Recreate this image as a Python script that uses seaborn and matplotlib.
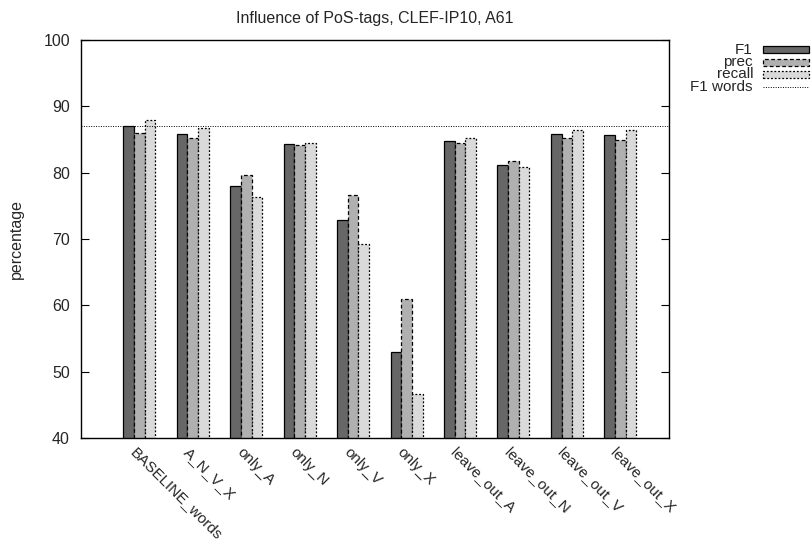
import matplotlib
matplotlib.use("Agg")
import matplotlib.pyplot as plt
import matplotlib.transforms as mtransforms
from matplotlib.patches import Rectangle
from matplotlib.lines import Line2D
import pandas as pd
import seaborn as sns

# ── Data ─────────────────────────────────────────────────────────────────────
configs = ["BASELINE_words", "A_N_V_X", "only_A", "only_N", "only_V", "only_X",
           "leave_out_A", "leave_out_N", "leave_out_V", "leave_out_X"]
f1     = [87.0, 85.9, 78.0, 84.3, 72.9, 52.9, 84.8, 81.2, 85.8, 85.7]
prec   = [86.0, 85.2, 79.7, 84.1, 76.7, 60.9, 84.4, 81.7, 85.3, 85.0]
recall = [88.0, 86.7, 76.4, 84.5, 69.2, 46.7, 85.2, 80.8, 86.4, 86.5]
f1_words = 87.0

metrics = ["F1", "prec", "recall"]
colors = {"F1": "#676767", "prec": "#b0b0b0", "recall": "#dadada"}
styles = {"F1": "-", "prec": (0, (3, 2)), "recall": (0, (1.5, 1.5))}

df = pd.DataFrame({
    "config": configs * 3,
    "metric": ["F1"] * len(configs) + ["prec"] * len(configs) + ["recall"] * len(configs),
    "value": f1 + prec + recall,
})

# ── Plot ─────────────────────────────────────────────────────────────────────
FS = 11.5
sns.set_style("white")
plt.rcParams["font.family"] = ["Liberation Sans", "DejaVu Sans"]
plt.rcParams["font.size"] = FS

fig = plt.figure(figsize=(8.11, 5.43), dpi=100)
ax = fig.add_axes([0.0999, 0.1934, 0.725, 0.7329])

sns.barplot(data=df, x="config", y="value", hue="metric", hue_order=metrics,
            palette=colors, width=0.6, edgecolor="black", linewidth=0.9,
            saturation=1, legend=False, ax=ax)
for cont, m in zip(ax.containers, metrics):
    for bar in cont:
        bar.set_linestyle(styles[m])

ax.axhline(f1_words, color="black", linestyle=(0, (1, 1.5)), linewidth=0.7)

ax.set_xlim(-1.09, 9.91)
ax.set_ylim(40, 100)
ax.set_yticks(range(40, 101, 10))
ax.set_xlabel("")
ax.set_ylabel("percentage", fontsize=FS, labelpad=14)
ax.set_title("Influence of PoS-tags, CLEF-IP10, A61", fontsize=FS, pad=12.5)

for sp in ax.spines.values():
    sp.set_visible(True)
    sp.set_color("black")
    sp.set_linewidth(1.0)

ax.tick_params(axis="y", direction="in", length=6, width=0.8, left=True,
               right=True, pad=8, labelsize=FS, color="black")
ax.tick_params(axis="x", length=0, pad=5)
offset = mtransforms.ScaledTranslation(-2 / 100, 0, fig.dpi_scale_trans)
for lbl in ax.get_xticklabels():
    lbl.set_rotation(-45)
    lbl.set_ha("left")
    lbl.set_va("top")
    lbl.set_rotation_mode("anchor")
    lbl.set_fontsize(11)
    lbl.set_transform(lbl.get_transform() + offset)

# ── Legend (gnuplot style: right-aligned text, sample on the right) ─────────
W, H = 811, 543
rows_y = [49.5, 62, 74.5, 87]
text_x = 753
LFS = 11
for m, y in zip(metrics, rows_y):
    fig.text(text_x / W, 1 - y / H, m, ha="right", va="center", fontsize=LFS)
    fig.patches.append(Rectangle(((text_x + 10) / W, 1 - (y + 3.5) / H), 46 / W, 7 / H,
                                 transform=fig.transFigure, facecolor=colors[m],
                                 edgecolor="black", linewidth=0.9, linestyle=styles[m]))
fig.text(text_x / W, 1 - rows_y[3] / H, "F1 words", ha="right", va="center", fontsize=LFS)
fig.lines.append(Line2D([(text_x + 10) / W, (text_x + 56) / W],
                        [1 - rows_y[3] / H] * 2, transform=fig.transFigure,
                        color="black", linestyle=(0, (1, 1.5)), linewidth=0.7))

fig.savefig("out.png", dpi=100)
